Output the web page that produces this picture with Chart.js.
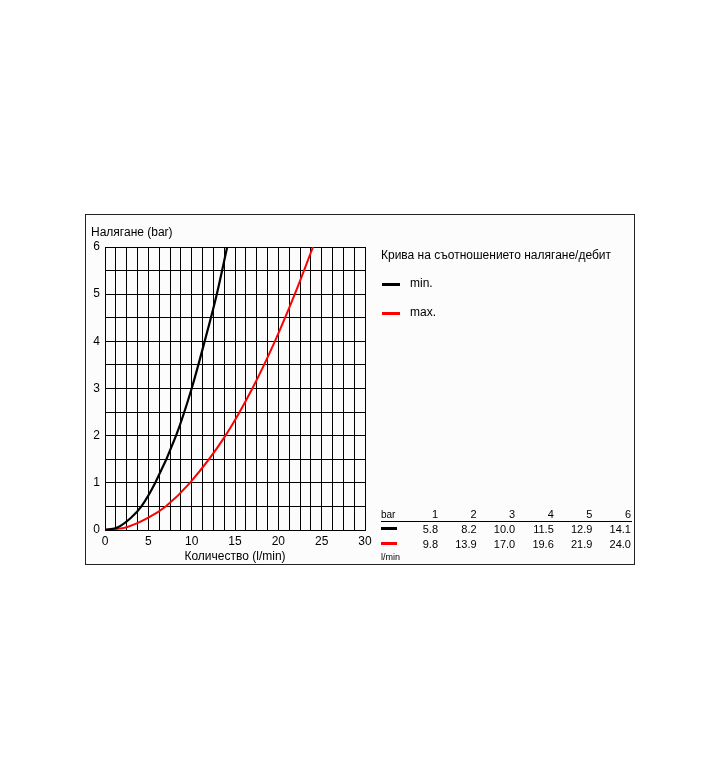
<!DOCTYPE html>
<html>
<head>
<meta charset="utf-8">
<script src="https://cdn.jsdelivr.net/npm/chart.js@4.4.1/dist/chart.umd.min.js"></script>
<style>
  body { margin: 0; background: #fff; font-family: "Liberation Sans", Arial, sans-serif; color: #000; }
  #frame { position: absolute; left: 85px; top: 214px; width: 548px; height: 349px; border: 1px solid #222; background: #fcfcfc; }
  #chartBox { position: absolute; left: 0; top: 0; width: 300px; height: 349px; }
  .txt { position: absolute; font-size: 12px; white-space: nowrap; }
  .swatch { position: absolute; height: 3px; }
  .cell { position: absolute; font-size: 11px; text-align: right; width: 36px; }
  .small { position: absolute; font-size: 10px; }
</style>
</head>
<body>
<div id="frame">
  <div id="chartBox"><canvas id="pressureChart"></canvas></div>
  <div id="side"></div>
</div>
<script>
// pressure levels (bar) and flow at each level (l/min), from the table
const barLevels = [1, 2, 3, 4, 5, 6];
const minFlow = [5.8, 8.2, 10.0, 11.5, 12.9, 14.1];
const maxFlow = [9.8, 13.9, 17.0, 19.6, 21.9, 24.0];
// low end of the curves
const minLowFlow = [0, 1.5, 3.0, 4.2];
const minLowBar = [0, 0.06, 0.26, 0.5];
const maxLowFlow = [0, 2.5, 5.0, 7.0];
const maxLowBar = [0, 0.06, 0.26, 0.5];
const seriesNames = ['min.', 'max.'];
const seriesColors = ['#000000', '#ff0000'];
const xTicks = [0, 5, 10, 15, 20, 25, 30];
const yTicks = [0, 1, 2, 3, 4, 5, 6];

function points(lowX, lowY, xs, ys) {
  const pts = lowX.map((x, i) => ({ x: x, y: lowY[i] }));
  return pts.concat(xs.map((x, i) => ({ x: x, y: ys[i] })));
}

const yTitle = {
  id: 'yTitle',
  afterDraw(chart) {
    const ctx = chart.ctx;
    ctx.save();
    ctx.font = '12px "Liberation Sans", Arial, sans-serif';
    ctx.fillStyle = '#000';
    ctx.textBaseline = 'middle';
    ctx.fillText('Налягане (bar)', chart.chartArea.left - 14, chart.chartArea.top - 14);
    ctx.restore();
  }
};

new Chart(document.getElementById('pressureChart'), {
  type: 'line',
  data: {
    datasets: [{
      label: seriesNames[0],
      data: points(minLowFlow, minLowBar, minFlow, barLevels),
      borderColor: seriesColors[0],
      borderWidth: 2.2,
      pointRadius: 0,
      cubicInterpolationMode: 'monotone'
    }, {
      label: seriesNames[1],
      data: points(maxLowFlow, maxLowBar, maxFlow, barLevels),
      borderColor: seriesColors[1],
      borderWidth: 2,
      pointRadius: 0,
      cubicInterpolationMode: 'monotone'
    }]
  },
  options: {
    responsive: true,
    maintainAspectRatio: false,
    animation: false,
    layout: { padding: { top: 32, left: 0, right: 21, bottom: 0 } },
    plugins: { legend: { display: false }, tooltip: { enabled: false } },
    scales: {
      x: {
        type: 'linear',
        min: 0,
        max: 30,
        afterFit: s => { s.height = 34; },
        grid: { color: '#000', lineWidth: 1, drawTicks: false },
        border: { color: '#000' },
        ticks: {
          stepSize: 1.25,
          autoSkip: false,
          maxTicksLimit: 100,
          maxRotation: 0,
          padding: 4,
          color: '#000',
          font: { family: '"Liberation Sans", Arial, sans-serif', size: 12 },
          callback: v => xTicks.includes(v) ? String(v) : ''
        },
        title: {
          display: true,
          text: 'Количество (l/min)',
          color: '#000',
          padding: { top: 2, bottom: 0 },
          font: { family: '"Liberation Sans", Arial, sans-serif', size: 12 }
        }
      },
      y: {
        min: 0,
        max: 6,
        afterFit: s => { s.width = 19; },
        grid: { color: '#000', lineWidth: 1, drawTicks: false },
        border: { color: '#000' },
        ticks: {
          stepSize: 0.5,
          autoSkip: false,
          padding: 5,
          color: '#000',
          font: { family: '"Liberation Sans", Arial, sans-serif', size: 12 },
          callback: v => yTicks.includes(v) ? String(v) : ''
        }
      }
    }
  },
  plugins: [yTitle]
});

// legend and value table on the right
const side = document.getElementById('side');
function add(cls, text, left, top, extra) {
  const d = document.createElement('div');
  d.className = cls;
  if (text !== null) d.textContent = text;
  d.style.left = left + 'px';
  d.style.top = top + 'px';
  if (extra) Object.assign(d.style, extra);
  side.appendChild(d);
  return d;
}
add('txt', 'Крива на съотношението налягане/дебит', 295, 33);
seriesNames.forEach((name, i) => {
  const y = 68 + i * 29;
  add('swatch', null, 296, y, { width: '18px', background: seriesColors[i] });
  add('txt', name, 324, y - 7);
});
const colRight = [352, 390.6, 429.2, 467.8, 506.4, 545];
add('small', 'bar', 295, 294);
barLevels.forEach((b, i) => add('cell', String(b), colRight[i] - 36, 293));
add('swatch', null, 295, 306, { width: '251px', height: '1px', background: '#000' });
[minFlow, maxFlow].forEach((row, r) => {
  const y = 308 + r * 15;
  add('swatch', null, 295, y + 4, { width: '16px', background: seriesColors[r] });
  row.forEach((v, i) => add('cell', v.toFixed(1), colRight[i] - 36, y));
});
add('small', 'l/min', 295, 337, { fontSize: '9px' });
</script>
</body>
</html>
